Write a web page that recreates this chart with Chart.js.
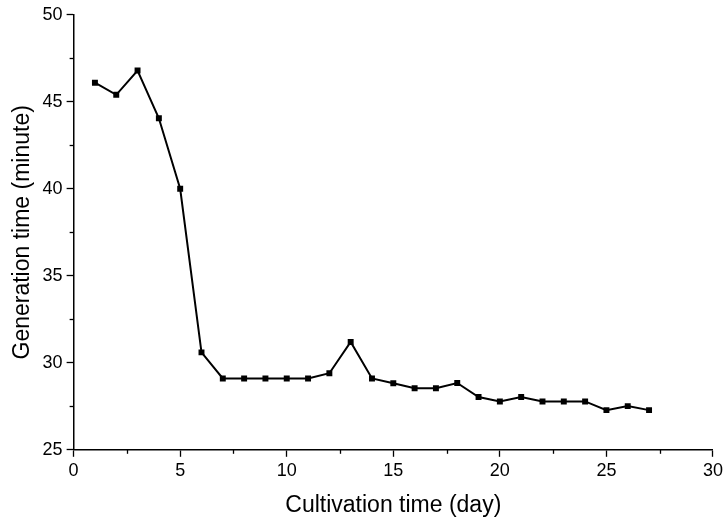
<!DOCTYPE html>
<html>
<head>
<meta charset="utf-8">
<script src="https://cdn.jsdelivr.net/npm/chart.js@4"></script>
<style>
  html, body { margin: 0; padding: 0; background: #fff; }
  #wrap { width: 726px; height: 521px; }
</style>
</head>
<body>
<div id="wrap"><canvas id="genChart" width="726" height="521"></canvas></div>
<script>
// datos
const days = [1, 2, 3, 4, 5, 6, 7, 8, 9, 10, 11, 12, 13, 14, 15, 16, 17, 18, 19, 20, 21, 22, 23, 24, 25, 26, 27];
const genTime = [46.1, 45.4, 46.8, 44.05, 40.0, 30.6, 29.1, 29.1, 29.1, 29.1, 29.1, 29.4, 31.2, 29.1, 28.83, 28.54, 28.54, 28.84, 28.03, 27.78, 28.03, 27.78, 27.78, 27.78, 27.28, 27.51, 27.28];
const xTicks = [0, 5, 10, 15, 20, 25, 30];
const yTicks = [25, 30, 35, 40, 45, 50];

const FONT = "'Liberation Sans', Arial, sans-serif";

// ticks menores (2.5) dibujados sobre las escalas
const minorTicks = {
    id: 'minorTicks',
    afterDraw(chart) {
        const ctx = chart.ctx;
        const xs = chart.scales.x, ys = chart.scales.y;
        ctx.save();
        ctx.strokeStyle = '#000';
        ctx.lineWidth = 1.3;
        for (let i = 0; i < xTicks.length - 1; i++) {
            const px = Math.round(xs.getPixelForValue(xTicks[i] + 2.5)) + 0.5;
            ctx.beginPath();
            ctx.moveTo(px, ys.bottom);
            ctx.lineTo(px, ys.bottom + 4);
            ctx.stroke();
        }
        for (let i = 0; i < yTicks.length - 1; i++) {
            const py = Math.round(ys.getPixelForValue(yTicks[i] + 2.5)) + 0.5;
            ctx.beginPath();
            ctx.moveTo(xs.left, py);
            ctx.lineTo(xs.left - 4, py);
            ctx.stroke();
        }
        ctx.restore();
    }
};

new Chart(document.getElementById('genChart').getContext('2d'), {
    type: 'line',
    data: {
        datasets: [{
            data: days.map((d, i) => ({ x: d, y: genTime[i] })),
            borderColor: '#000',
            backgroundColor: '#000',
            borderWidth: 2,
            pointStyle: 'rect',
            pointRadius: 4.2,
            pointBorderWidth: 0,
            tension: 0
        }]
    },
    options: {
        responsive: false,
        animation: false,
        layout: { padding: { left: 9, right: 6, top: 9, bottom: 2 } },
        plugins: { legend: { display: false }, tooltip: { enabled: false } },
        scales: {
            x: {
                type: 'linear',
                min: 0, max: 30,
                afterBuildTicks: (s) => { s.ticks = xTicks.map(v => ({ value: v })); },
                grid: { drawOnChartArea: false, tickLength: 7, color: '#000', tickWidth: 1.3 },
                border: { display: true, color: '#000', width: 1.5 },
                ticks: { color: '#000', font: { family: FONT, size: 18 }, padding: 3, maxRotation: 0 },
                title: { display: true, text: 'Cultivation time (day)', color: '#000', font: { family: FONT, size: 23 }, padding: { top: 7, bottom: 0 } }
            },
            y: {
                type: 'linear',
                min: 25, max: 50,
                afterBuildTicks: (s) => { s.ticks = yTicks.map(v => ({ value: v })); },
                grid: { drawOnChartArea: false, tickLength: 7, color: '#000', tickWidth: 1.3 },
                border: { display: true, color: '#000', width: 1.5 },
                ticks: { color: '#000', font: { family: FONT, size: 18 }, padding: 4 },
                title: { display: true, text: 'Generation time (minute)', color: '#000', font: { family: FONT, size: 23 }, padding: { top: 0, bottom: 2 } }
            }
        }
    },
    plugins: [minorTicks]
});
</script>
</body>
</html>
